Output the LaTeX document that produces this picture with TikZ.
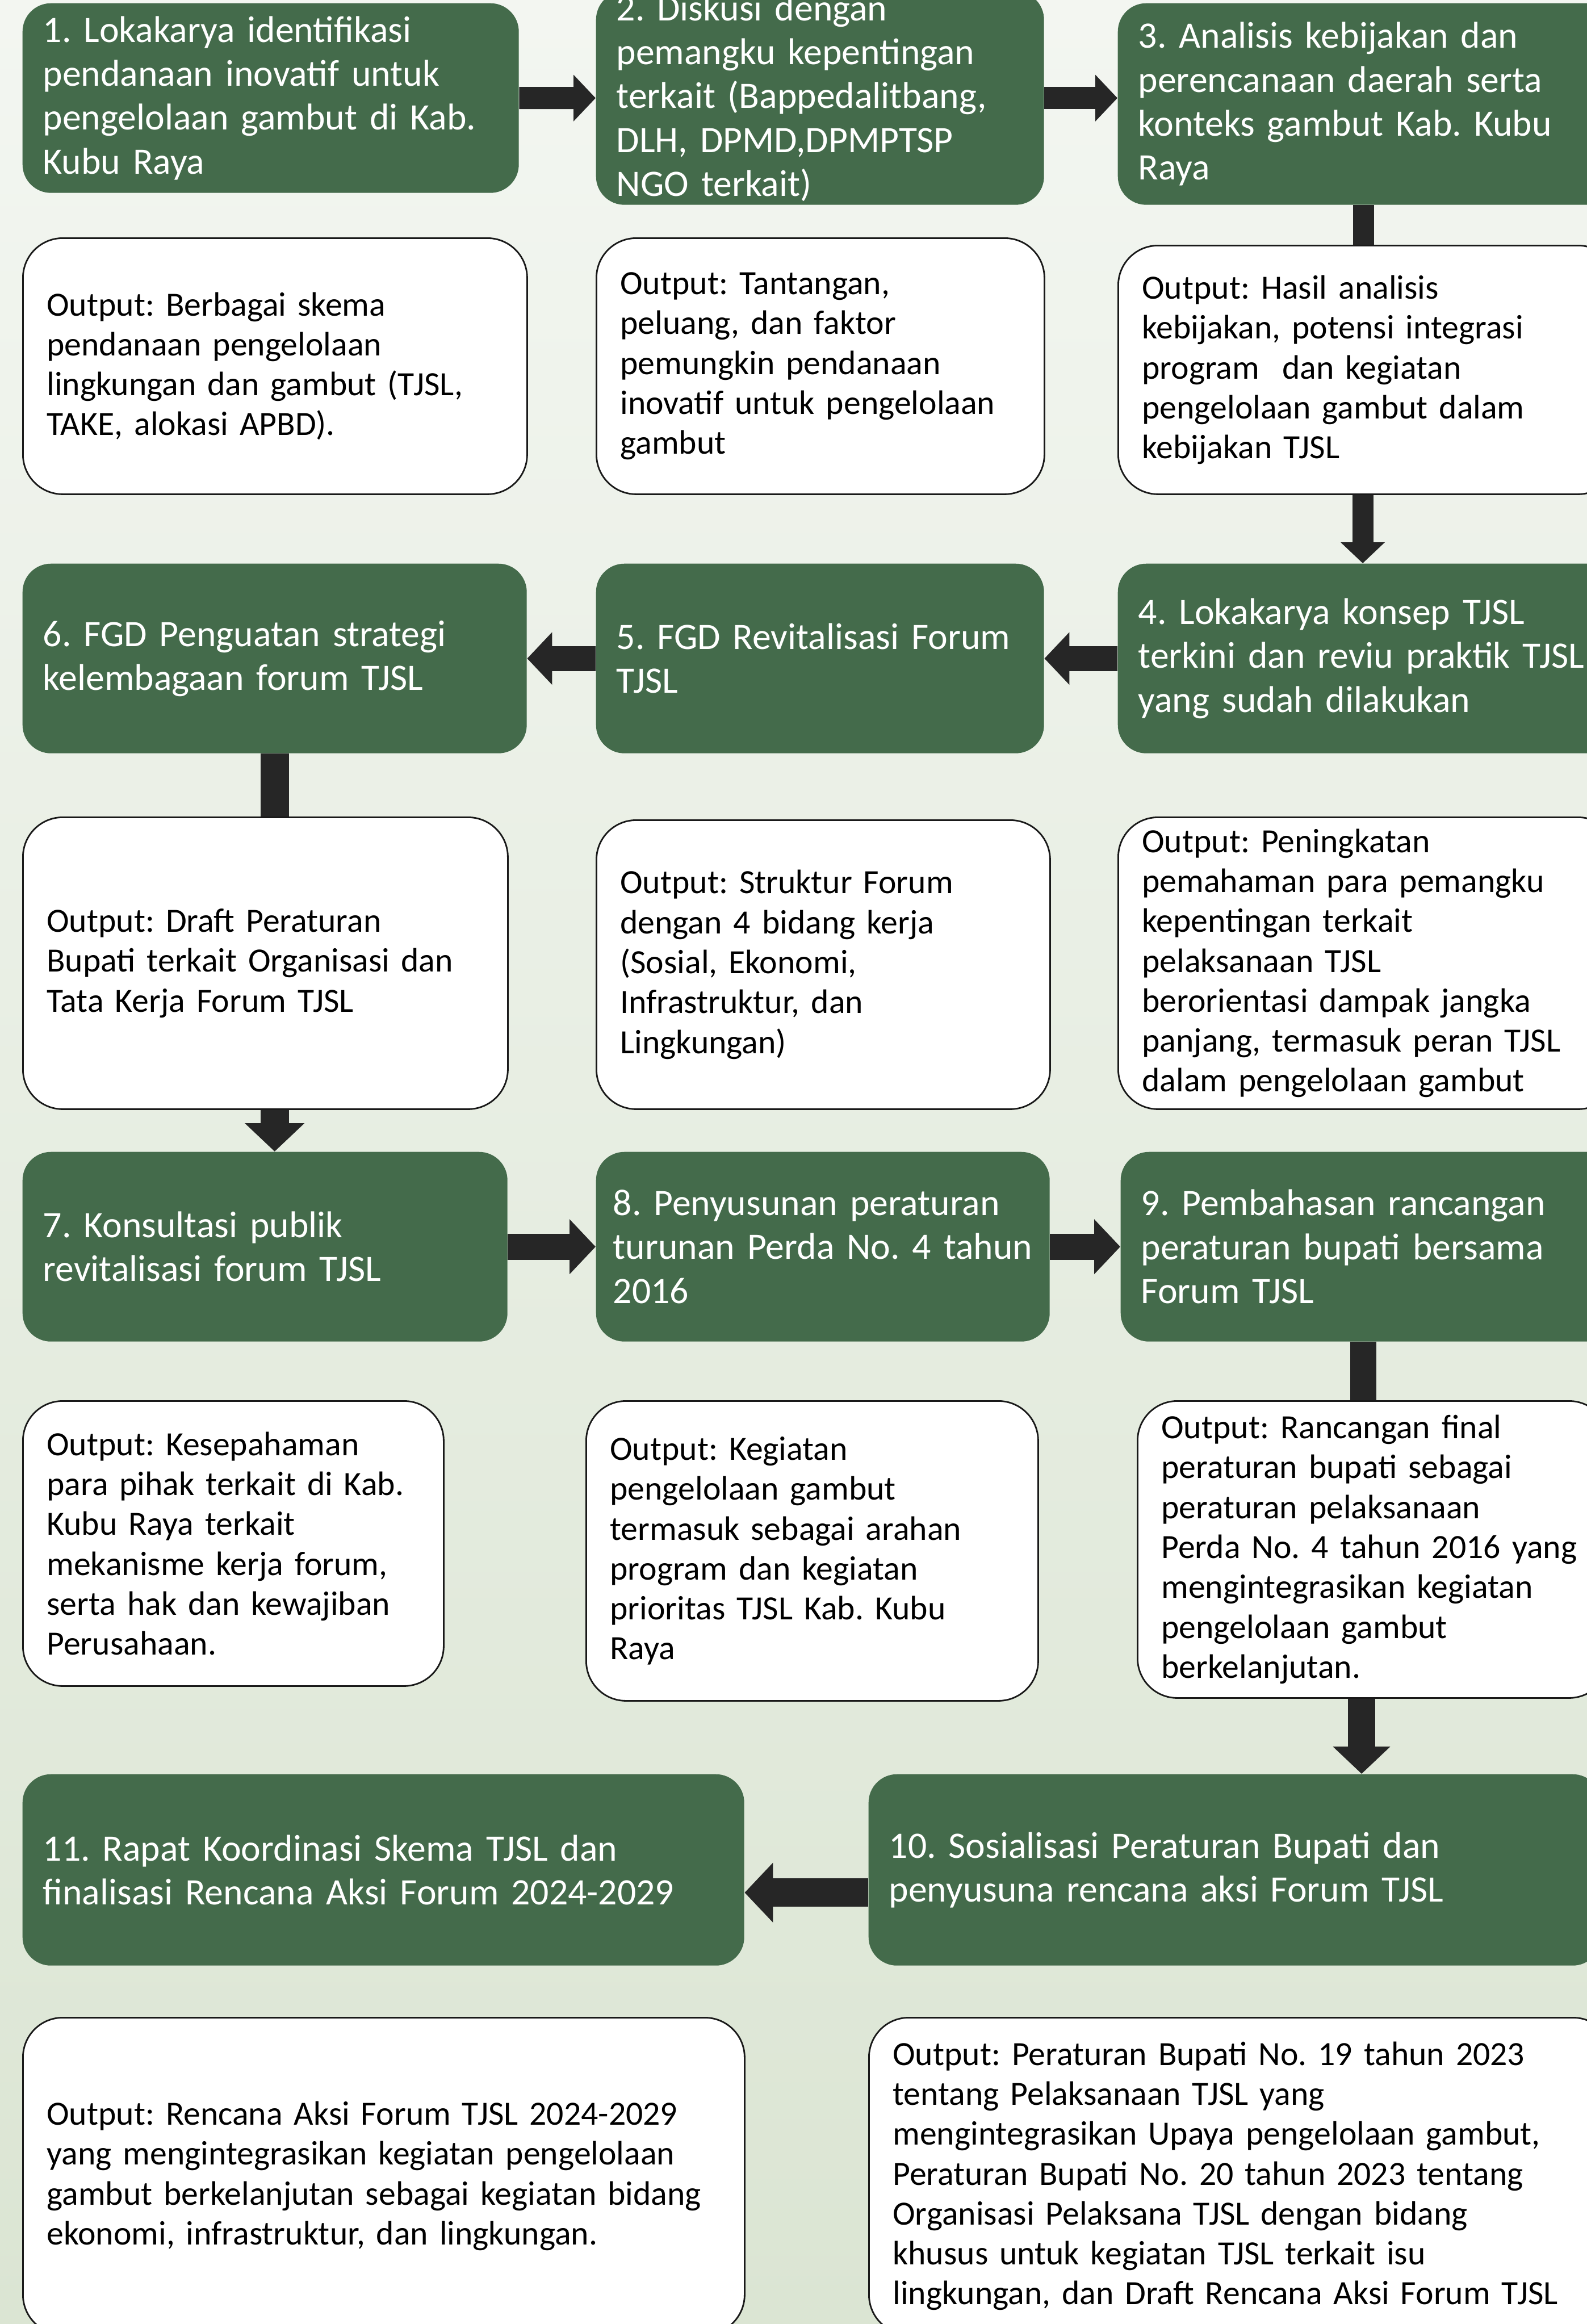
\documentclass[tikz,border=0pt]{standalone}
\usepackage{fontspec}
\setmainfont{Carlito}
\usetikzlibrary{arrows.meta}
\definecolor{stepgreen}{RGB}{68,107,75}
\definecolor{flowgray}{RGB}{38,38,38}
\definecolor{bgtop}{RGB}{243,246,241}
\definecolor{bgmid}{RGB}{231,238,225}
\definecolor{bgbot}{RGB}{219,229,211}
\tikzset{
	stepbox/.style={rectangle, rounded corners=0.5cm, fill=stepgreen, text=white, anchor=north west, align=left, inner xsep=0.36cm, inner ysep=0pt, font=\frenchspacing\fontsize{18.7}{22}\selectfont},
	outbox/.style={rectangle, rounded corners=0.7cm, draw=black!90, line width=0.8pt, fill=white, text=black, anchor=north west, align=left, inner xsep=0.42cm, inner ysep=0pt, font=\frenchspacing\fontsize{17}{20}\selectfont},
	flow/.style={draw=flowgray, line width=#1, -{Triangle[width=0pt 2.05, length=0pt 1]}},
	flow/.default=0.42cm,
	linkbar/.style={draw=flowgray, line width=#1},
	linkbar/.default=0.38cm
}

\begin{document}
\begin{tikzpicture}
			\useasboundingbox (0,0) rectangle (27.95,-40.93);
			\clip (0,0) rectangle (27.95,-40.93);
			\shade[top color=bgtop, middle color=bgmid, bottom color=bgbot] (0,0) rectangle (27.95,-40.93);

			\node[stepbox, minimum width=8.74cm, minimum height=3.34cm, text width=8.02cm] (b1) at (0.39,-0.05)
				{1. Lokakarya identifikasi\\pendanaan inovatif untuk\\pengelolaan gambut di Kab.\\Kubu Raya};
			\node[stepbox, minimum width=7.89cm, minimum height=3.76cm, text width=7.17cm] (b2) at (10.49,0.16)
				{2. Diskusi dengan\\pemangku kepentingan\\terkait (Bappedalitbang,\\DLH, DPMD,DPMPTSP\\NGO terkait)};
			\node[stepbox, minimum width=8.8cm, minimum height=3.55cm, text width=8.08cm] (b3) at (19.68,-0.05)
				{3. Analisis kebijakan dan\\perencanaan daerah serta\\konteks gambut Kab. Kubu\\Raya};

			\node[outbox, minimum width=8.88cm, minimum height=4.51cm, text width=8.04cm] (o1) at (0.39,-4.18)
				{Output: Berbagai skema\\pendanaan pengelolaan\\lingkungan dan gambut (TJSL,\\TAKE, alokasi APBD).};
			\node[outbox, minimum width=7.89cm, minimum height=4.51cm, text width=7.05cm] (o2) at (10.49,-4.18)
				{Output: Tantangan,\\peluang, dan faktor\\pemungkin pendanaan\\inovatif untuk pengelolaan\\gambut};
			\node[outbox, minimum width=8.8cm, minimum height=4.38cm, text width=7.96cm] (o3) at (19.68,-4.31)
				{Output: Hasil analisis\\kebijakan, potensi integrasi\\program~ dan kegiatan\\pengelolaan gambut dalam\\kebijakan TJSL};

			\node[stepbox, minimum width=8.88cm, minimum height=3.34cm, text width=8.16cm] (b6) at (0.39,-9.92)
				{6. FGD Penguatan strategi\\kelembagaan forum TJSL};
			\node[stepbox, minimum width=7.89cm, minimum height=3.34cm, text width=7.17cm] (b5) at (10.49,-9.92)
				{5. FGD Revitalisasi Forum\\TJSL};
			\node[stepbox, minimum width=8.8cm, minimum height=3.34cm, text width=8.08cm] (b4) at (19.68,-9.92)
				{4. Lokakarya konsep TJSL\\terkini dan reviu praktik TJSL\\yang sudah dilakukan};

			\node[outbox, minimum width=8.54cm, minimum height=5.14cm, text width=7.7cm] (o6) at (0.39,-14.38)
				{Output: Draft Peraturan\\Bupati terkait Organisasi dan\\Tata Kerja Forum TJSL};
			\node[outbox, minimum width=7.99cm, minimum height=5.09cm, text width=7.15cm] (o5) at (10.49,-14.43)
				{Output: Struktur Forum\\dengan 4 bidang kerja\\(Sosial, Ekonomi,\\Infrastruktur, dan\\Lingkungan)};
			\node[outbox, minimum width=8.8cm, minimum height=5.14cm, text width=7.96cm] (o4) at (19.68,-14.38)
				{Output: Peningkatan\\pemahaman para pemangku\\kepentingan terkait\\pelaksanaan TJSL\\berorientasi dampak jangka\\panjang, termasuk peran TJSL\\dalam pengelolaan gambut};

			\node[stepbox, minimum width=8.54cm, minimum height=3.34cm, text width=7.82cm] (b7) at (0.39,-20.28)
				{7. Konsultasi publik\\revitalisasi forum TJSL};
			\node[stepbox, minimum width=7.99cm, minimum height=3.34cm, text width=7.39cm, inner xsep=0.3cm] (b8) at (10.49,-20.28)
				{8. Penyusunan peraturan\\turunan Perda No. 4 tahun\\2016};
			\node[stepbox, minimum width=8.75cm, minimum height=3.34cm, text width=8.03cm] (b9) at (19.73,-20.28)
				{9. Pembahasan rancangan\\peraturan bupati bersama\\Forum TJSL};

			\node[outbox, minimum width=7.41cm, minimum height=5.02cm, text width=6.57cm] (o7) at (0.39,-24.66)
				{Output: Kesepahaman\\para pihak terkait di Kab.\\Kubu Raya terkait\\mekanisme kerja forum,\\serta hak dan kewajiban\\Perusahaan.};
			\node[outbox, minimum width=7.96cm, minimum height=5.28cm, text width=7.12cm] (o8) at (10.31,-24.66)
				{Output: Kegiatan\\pengelolaan gambut\\termasuk sebagai arahan\\program dan kegiatan\\prioritas TJSL Kab. Kubu\\Raya};
			\node[outbox, minimum width=8.3cm, minimum height=5.23cm, text width=7.46cm] (o9) at (20.02,-24.66)
				{Output: Rancangan final\\peraturan bupati sebagai\\peraturan pelaksanaan\\Perda No. 4 tahun 2016 yang\\mengintegrasikan kegiatan\\pengelolaan gambut\\berkelanjutan.};

			\node[stepbox, minimum width=12.71cm, minimum height=3.37cm, text width=11.99cm] (b11) at (0.39,-31.24)
				{11. Rapat Koordinasi Skema TJSL dan\\finalisasi Rencana Aksi Forum 2024-2029};
			\node[stepbox, minimum width=12.9cm, minimum height=3.37cm, text width=12.18cm] (b10) at (15.29,-31.24)
				{10. Sosialisasi Peraturan Bupati dan\\penyusuna rencana aksi Forum TJSL};

			\node[outbox, minimum width=12.71cm, minimum height=5.58cm, text width=11.87cm] (o11) at (0.39,-35.52)
				{Output: Rencana Aksi Forum TJSL 2024-2029\\yang mengintegrasikan kegiatan pengelolaan\\gambut berkelanjutan sebagai kegiatan bidang\\ekonomi, infrastruktur, dan lingkungan.};
			\node[outbox, minimum width=13.1cm, minimum height=5.58cm, text width=12.26cm] (o10) at (15.29,-35.52)
				{Output: Peraturan Bupati No. 19 tahun 2023\\tentang Pelaksanaan TJSL yang\\mengintegrasikan Upaya pengelolaan gambut,\\Peraturan Bupati No. 20 tahun 2023 tentang\\Organisasi Pelaksana TJSL dengan bidang\\khusus untuk kegiatan TJSL terkait isu\\lingkungan, dan Draft Rencana Aksi Forum TJSL};

			\draw[flow=0.39cm] (b1.east) -- (b2.west);
			\draw[flow=0.39cm] (b2.east) -- (b2.east -| b3.west);
			\draw[linkbar=0.37cm] (b3.south -| 24.01,0) -- (o3.north -| 24.01,0);
			\draw[flow=0.37cm] (o3.south -| 24.0,0) -- (b4.north -| 24.0,0);
			\draw[flow=0.44cm] (b4.west) -- (b5.east);
			\draw[flow=0.44cm] (b5.west) -- (b6.east);
			\draw[linkbar=0.5cm] (b6.south) -- (b6.south |- o6.north);
			\draw[flow=0.5cm] (o6.south -| b6.south) -- (b7.north -| b6.south);
			\draw[flow=0.46cm] (b7.east) -- (b8.west);
			\draw[flow=0.46cm] (b8.east) -- (b9.west);
			\draw[linkbar=0.46cm] (b9.south -| 24.01,0) -- (o9.north -| 24.01,0);
			\draw[flow=0.48cm] (o9.south -| 23.98,0) -- (b10.north -| 23.98,0);
			\draw[flow=0.5cm] ([yshift=-0.4cm]b10.west) -- ([yshift=-0.4cm]b11.east);
\end{tikzpicture}
\end{document}
